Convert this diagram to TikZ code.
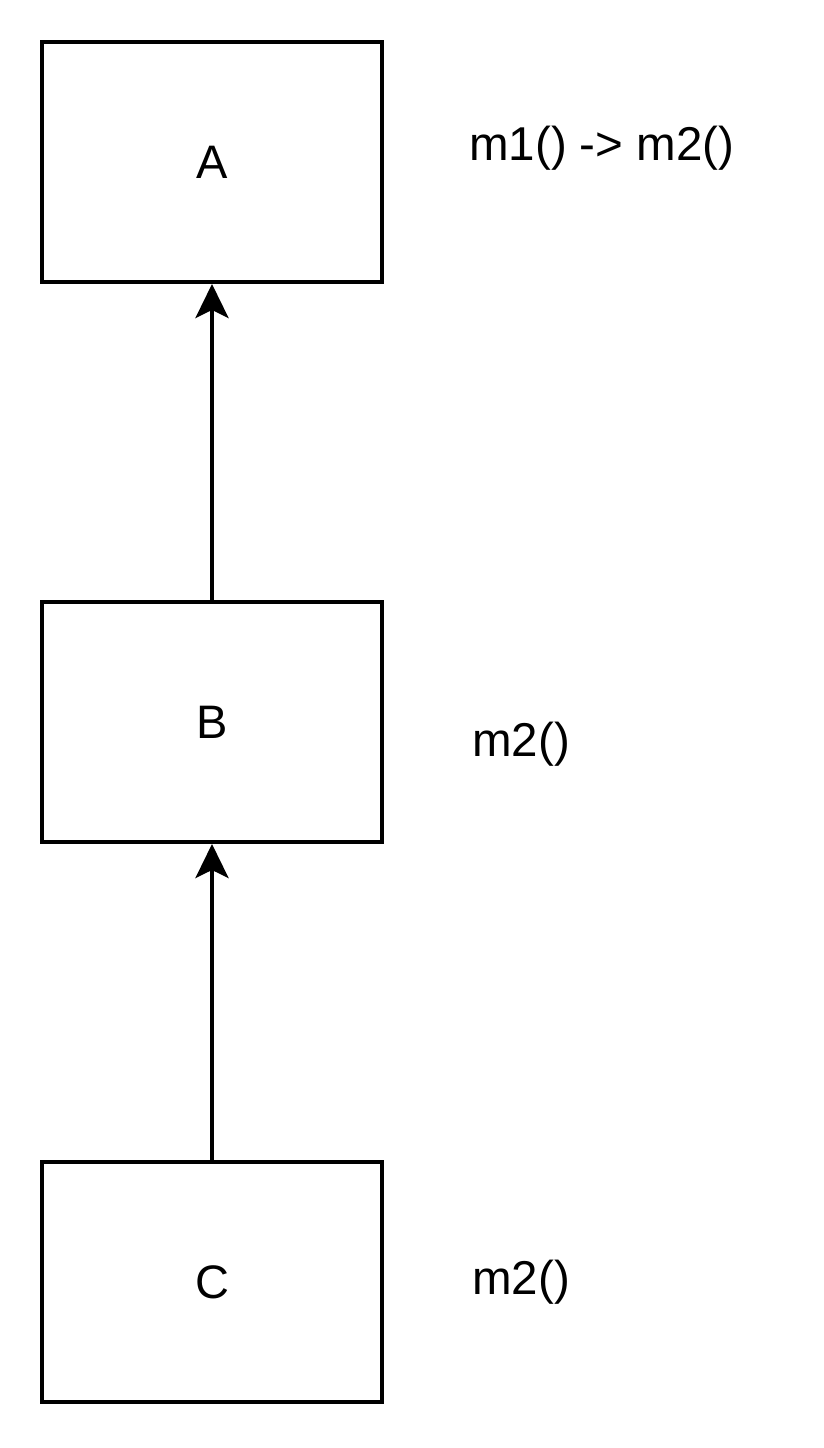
\documentclass[tikz,border=0pt]{standalone}
\usepackage{fontspec}
\setmainfont{Liberation Sans}
\usetikzlibrary{arrows.meta}
\begin{document}
\begin{tikzpicture}[x=1pt,y=-1pt,
  box/.style={draw,line width=4pt,minimum width=340pt,minimum height=240pt,inner sep=0pt,font=\fontsize{47}{50}\selectfont},
  lbl/.style={anchor=base west,inner sep=0pt,font=\fontsize{47.5}{50}\selectfont},
  conn/.style={line width=4pt,-{Stealth[length=34pt,width=33pt,inset=8pt]}}]
\useasboundingbox (0,0) rectangle (824,1448);
\node[box] (A) at (212,162) {A};
\node[box] (B) at (212,722) {B};
\node[box] (C) at (212,1282) {C};
\node[lbl] (la) at (469,160) {m1() -> m2()};
\node[lbl] (lb) at (472,756) {m2()};
\node[lbl] (lc) at (472,1294) {m2()};
\draw[conn] (B.north) -- (A.south);
\draw[conn] (C.north) -- (B.south);
\end{tikzpicture}
\end{document}
